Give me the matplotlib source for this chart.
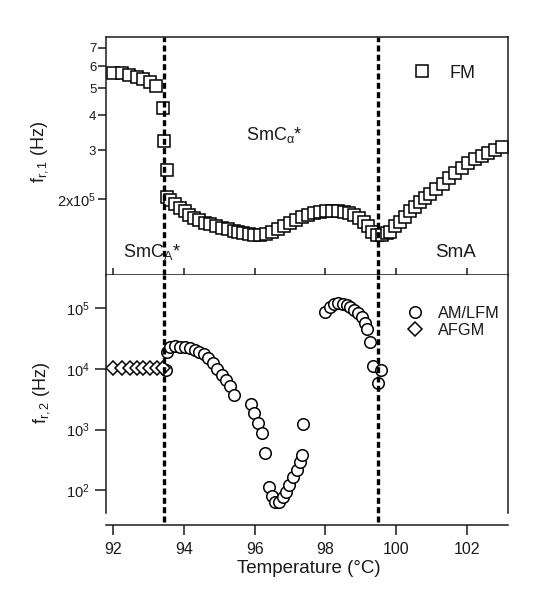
import numpy as np
import matplotlib
matplotlib.use('Agg')
import matplotlib.pyplot as plt
from matplotlib.ticker import FixedLocator, FixedFormatter, LogLocator, LogFormatterMathtext, NullLocator

plt.rcParams['font.family'] = ['Liberation Sans', 'DejaVu Sans']
plt.rcParams['mathtext.fontset'] = 'custom'
plt.rcParams['mathtext.rm'] = 'Liberation Sans'
plt.rcParams['mathtext.it'] = 'Liberation Sans:italic'
plt.rcParams['mathtext.default'] = 'regular'

# FM mode, relaxation frequency f_r,1 (Hz)
t_fm = [92.00, 92.25, 92.44, 92.66, 92.83, 93.04, 93.21,
        93.40, 93.44, 93.51, 93.53,
        93.60, 93.75, 93.89, 94.03, 94.15, 94.28, 94.43, 94.59, 94.74, 94.91,
        95.07, 95.23, 95.40, 95.54, 95.68, 95.83, 95.98, 96.15, 96.32, 96.49,
        96.66, 96.83, 97.00, 97.17, 97.34, 97.51, 97.68, 97.85, 98.02, 98.19,
        98.36, 98.53, 98.67, 98.81, 98.95, 99.09, 99.21, 99.32, 99.45, 99.59,
        99.74, 99.83, 99.97, 100.11, 100.25, 100.40, 100.54, 100.68, 100.82,
        100.96, 101.13, 101.32, 101.50, 101.68, 101.87, 102.05, 102.24, 102.42,
        102.60, 102.79, 103.00]
f_fm = [5.67, 5.68, 5.60, 5.51, 5.39, 5.26, 5.10,
        4.26, 3.24, 2.54, 2.03,
        1.99, 1.92, 1.86, 1.81, 1.76, 1.72, 1.69, 1.65, 1.63, 1.60,
        1.58, 1.56, 1.54, 1.52, 1.51, 1.50, 1.49, 1.49, 1.50, 1.53,
        1.56, 1.60, 1.64, 1.69, 1.73, 1.76, 1.79, 1.80, 1.82, 1.82,
        1.82, 1.80, 1.78, 1.75, 1.71, 1.66, 1.60, 1.53, 1.49, 1.49,
        1.51, 1.53, 1.60, 1.66, 1.73, 1.81, 1.88, 1.95, 2.02,
        2.09, 2.18, 2.27, 2.38, 2.48, 2.58, 2.69, 2.79, 2.87,
        2.94, 3.01, 3.09]
f_fm = np.array(f_fm) * 1e5

# AFGM mode, f_r,2 (Hz)
t_afgm = [92.00, 92.24, 92.47, 92.66, 92.85, 93.04, 93.23, 93.41]
f_afgm = [1.03e4, 1.03e4, 1.03e4, 1.03e4, 1.03e4, 1.03e4, 1.03e4, 1.03e4]

# AM/LFM mode, f_r,2 (Hz)
t_am = [93.49, 93.51, 93.60, 93.75, 93.89, 94.03, 94.17, 94.31, 94.41, 94.55,
        94.69, 94.83, 94.94, 95.07, 95.19, 95.30, 95.40,
        95.89, 95.98, 96.10, 96.20, 96.29, 96.39, 96.48, 96.58, 96.70, 96.79,
        96.89, 96.98, 97.09, 97.19, 97.28, 97.33, 97.38,
        97.99, 98.13, 98.25, 98.37, 98.49, 98.60, 98.70, 98.81, 98.93, 99.03,
        99.12, 99.19, 99.26, 99.36, 99.57, 99.50]
f_am = [9.6e3, 1.93e4, 2.33e4, 2.39e4, 2.33e4, 2.33e4, 2.19e4, 2.05e4, 1.93e4, 1.76e4,
        1.50e4, 1.24e4, 9.9e3, 7.95e3, 6.58e3, 5.24e3, 3.72e3,
        2.65e3, 1.86e3, 1.30e3, 890, 417, 115, 80.5, 64.9, 64.9, 76.7,
        94.8, 122, 164, 216, 293, 382, 1.22e3,
        8.59e4, 1.06e5, 1.18e5, 1.21e5, 1.18e5, 1.13e5, 1.04e5, 9.37e4, 8.26e4, 7.1e4,
        5.78e4, 4.5e4, 2.81e4, 1.12e4, 9.6e3, 5.81e3]

# phase transition temperatures
t_trans = [93.44, 99.49]

ytick_top = [2e5, 3e5, 4e5, 5e5, 6e5, 7e5]
ytick_top_lbl = ['2x10$^5$', '3', '4', '5', '6', '7']

ink = '#1a1a1a'
fig = plt.figure(figsize=(5.36, 6.05), dpi=100)
ax1 = fig.add_axes([0.1978, 0.5455, 0.75, 0.3934])
ax2 = fig.add_axes([0.1978, 0.1521, 0.75, 0.3934])

for ax in (ax1, ax2):
    ax.set_xlim(91.79, 103.17)
    for s in ax.spines.values():
        s.set_linewidth(1.1)
        s.set_color(ink)
    ax.set_xticks([92, 94, 96, 98, 100, 102])

# top panel
ax1.plot(t_fm, f_fm, ls='none', marker='s', ms=9, mfc='white', mec='k', mew=1.1, label='FM')
ax1.set_yscale('log')
ax1.set_ylim(1.07e5, 7.65e5)
ax1.yaxis.set_major_locator(FixedLocator(ytick_top))
ax1.yaxis.set_major_formatter(FixedFormatter(ytick_top_lbl))
ax1.yaxis.set_minor_locator(NullLocator())
ax1.tick_params(axis='y', direction='out', length=5.5, width=1.1, pad=1.5, colors=ink, labelsize=9.5)
ax1.get_yticklabels()[0].set_fontsize(10.5)
ax1.tick_params(axis='x', direction='inout', length=10, width=1.1, labelbottom=False, colors=ink)
for t in t_trans:
    ax1.axvline(t, color='k', lw=2.4, ls=(0, (1.8, 1.0)))
ax1.set_ylabel('f$_{r,1}$ (Hz)', fontsize=13, color=ink)
ax1.yaxis.set_label_coords(-0.139, 0.517)
ax1.text(0.348, 0.567, 'SmC$_{\\alpha}$*', transform=ax1.transAxes, fontsize=13, color=ink)
ax1.text(0.042, 0.077, 'SmC$_A$*', transform=ax1.transAxes, fontsize=13, color=ink)
ax1.text(0.818, 0.077, 'SmA', transform=ax1.transAxes, fontsize=13.5, color=ink)
ax1.legend(loc='center left', bbox_to_anchor=(0.745, 0.8475), frameon=False, fontsize=13,
           handlelength=1.0, handletextpad=1.05, borderaxespad=0, labelcolor=ink)

# bottom panel
ax2.plot(t_am, f_am, ls='none', marker='o', ms=8.3, mfc='white', mec='k', mew=1.1, label='AM/LFM')
ax2.plot(t_afgm, f_afgm, ls='none', marker='D', ms=7.5, mfc='white', mec='k', mew=1.1, label='AFGM')
ax2.set_yscale('log')
ax2.set_ylim(42.3, 3.54e5)
ax2.yaxis.set_major_locator(LogLocator(base=10, numticks=10))
ax2.yaxis.set_major_formatter(LogFormatterMathtext())
ax2.yaxis.set_minor_locator(NullLocator())
ax2.spines['top'].set_visible(False)
ax2.spines['bottom'].set_position(('outward', 9))
ax2.tick_params(axis='y', direction='out', length=8, width=1.1, pad=4, colors=ink, labelsize=10.5)
ax2.tick_params(axis='x', direction='out', length=7, width=1.1, pad=5, colors=ink, labelsize=11.5)
for t in t_trans:
    ax2.axvline(t, ymin=-0.038, ymax=1, clip_on=False, color='k', lw=2.4, ls=(0, (1.8, 1.0)))
ax2.set_ylabel('f$_{r,2}$ (Hz)', fontsize=13, color=ink)
ax2.yaxis.set_label_coords(-0.134, 0.504)
ax2.set_xlabel('Temperature (°C)', fontsize=13.5, color=ink)
ax2.xaxis.set_label_coords(0.505, -0.197)
ax2.legend(loc='center left', bbox_to_anchor=(0.732, 0.8025), frameon=False, fontsize=11.7,
           handlelength=1.0, handletextpad=0.92, labelspacing=0.1, borderaxespad=0, labelcolor=ink)

fig.savefig('out.png', dpi=100, facecolor='white')
